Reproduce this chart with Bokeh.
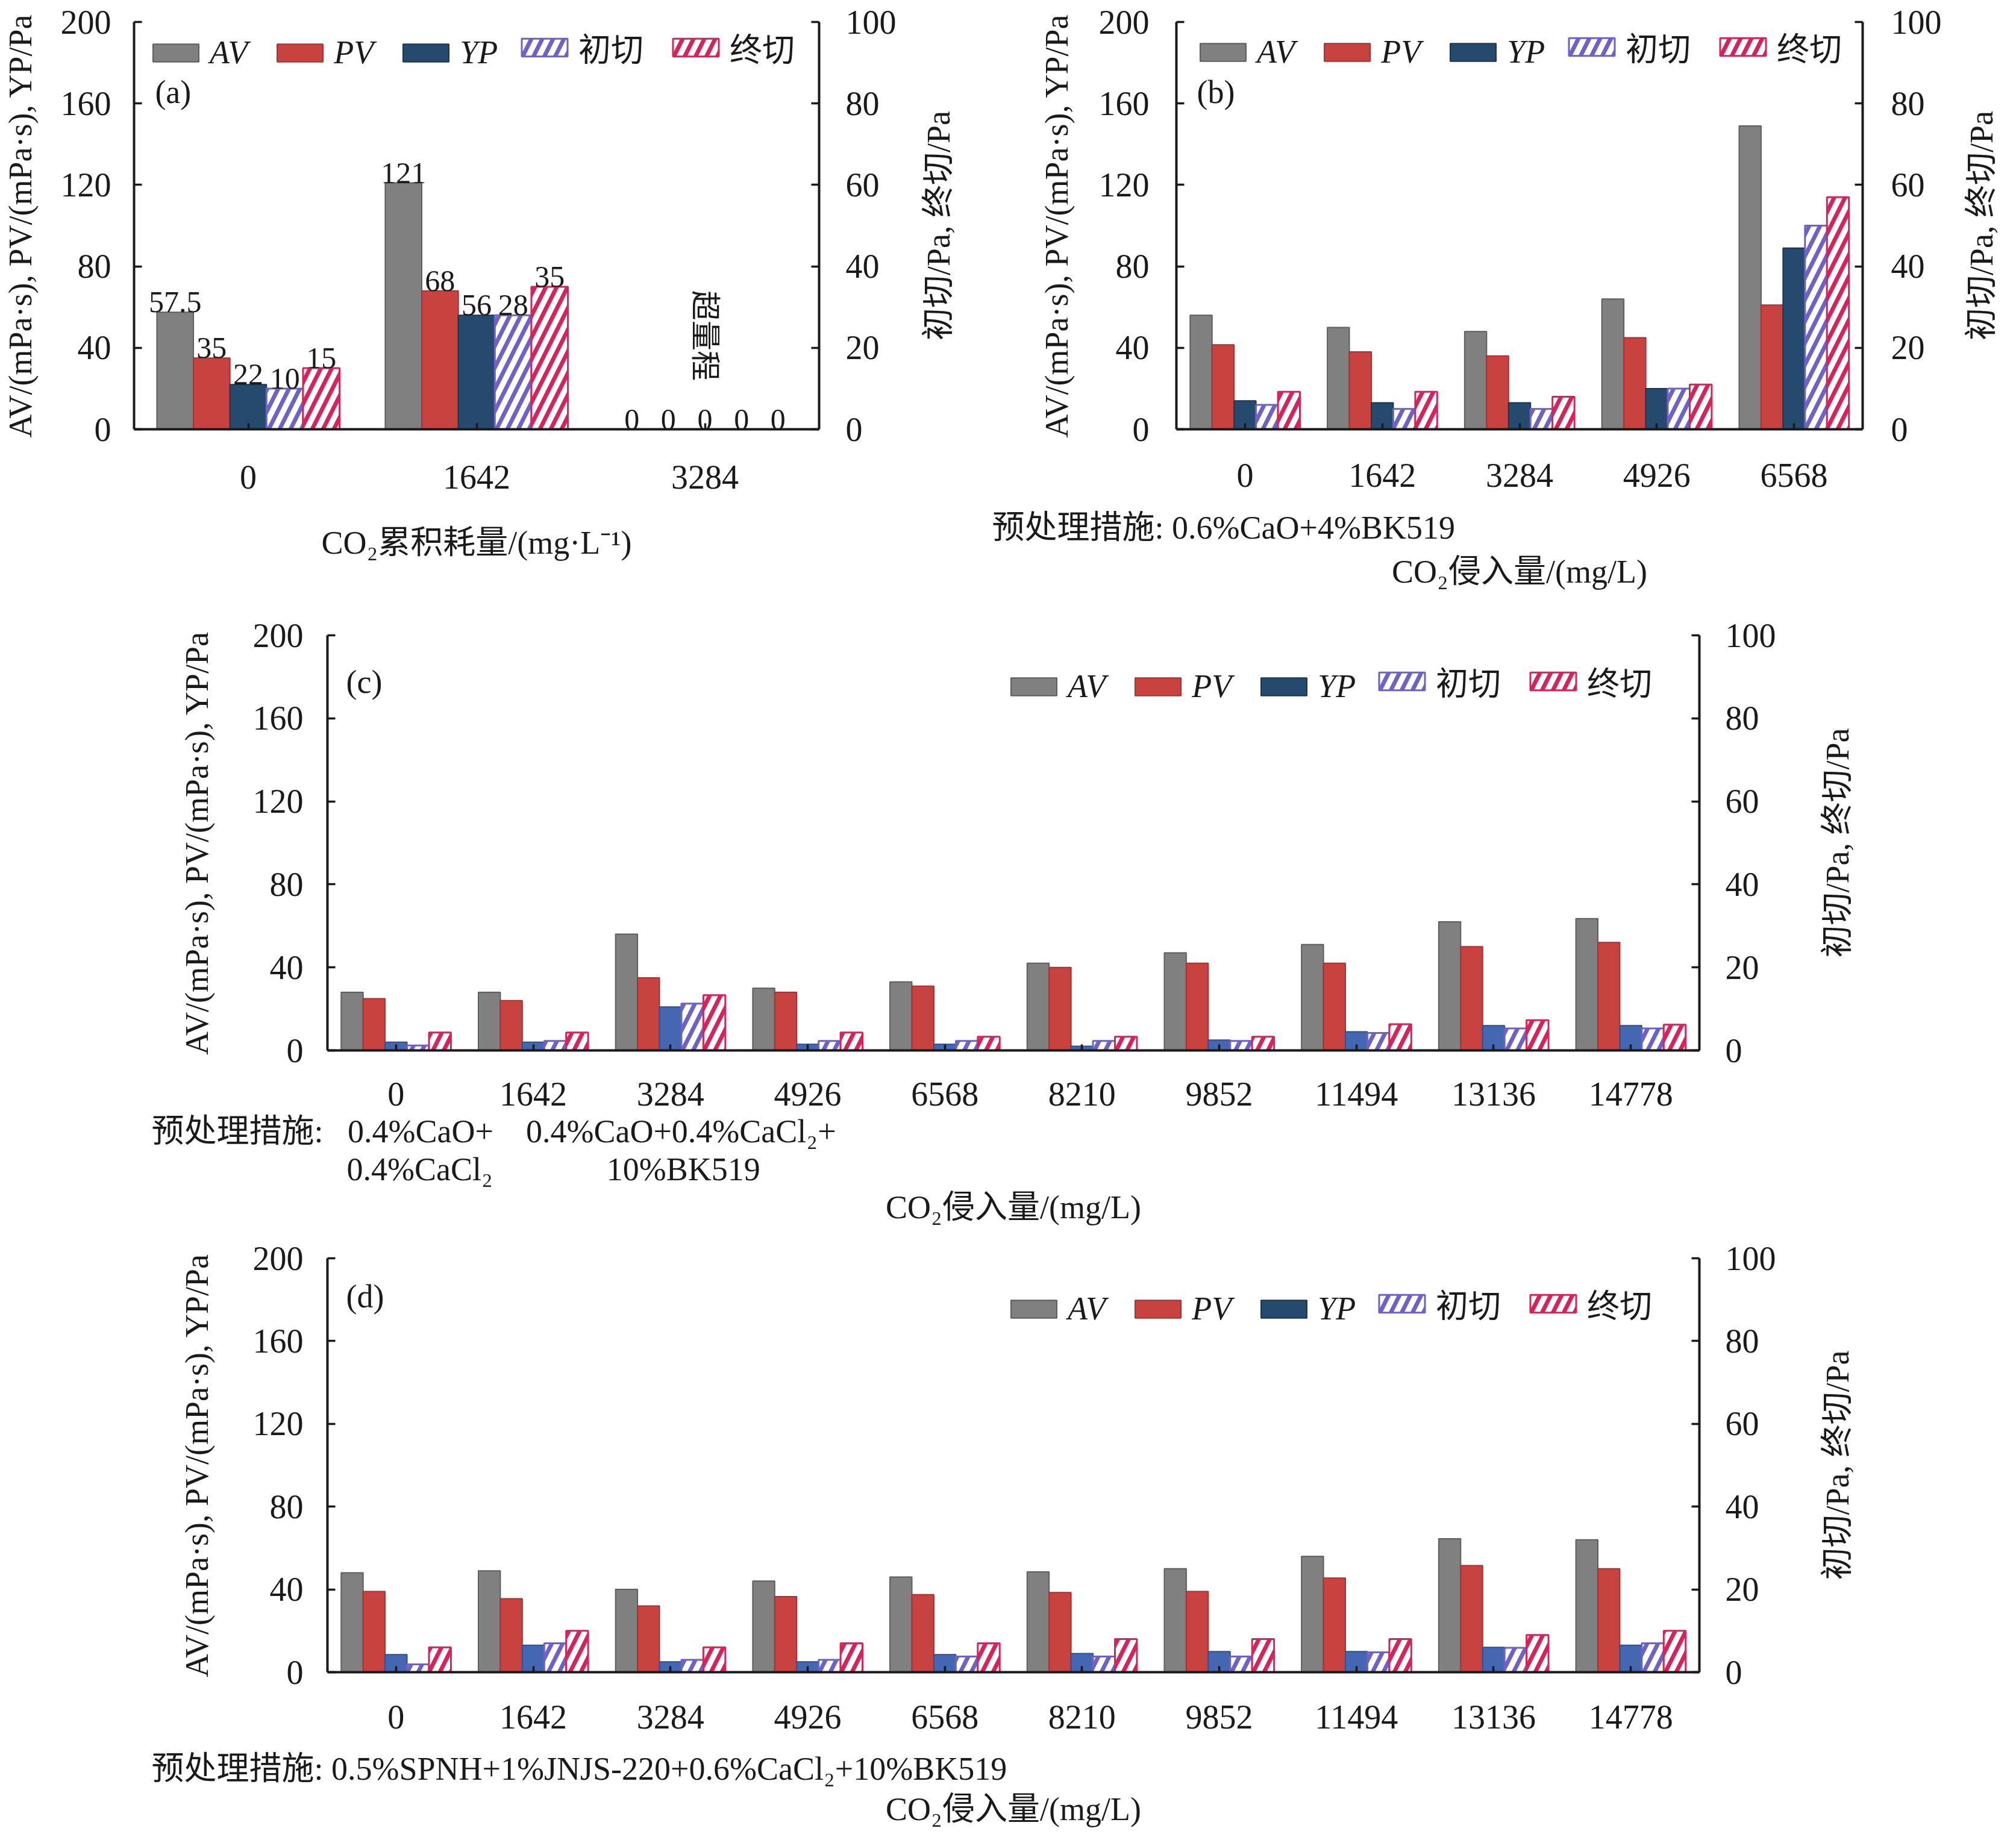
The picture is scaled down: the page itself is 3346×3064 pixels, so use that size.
import math
from bokeh.plotting import figure
from bokeh.models import (Range1d, FactorRange, LinearAxis, FixedTicker, Legend,
                          LegendItem, Label, Title, ColumnDataSource)
from bokeh.transform import dodge
from bokeh.layouts import column, row
from bokeh.embed import file_html
from bokeh.resources import INLINE
from bokeh.core.properties import value

# ---------------- data ----------------
series_names = ["AV", "PV", "YP", "初切", "终切"]

a_cats = ["0", "1642", "3284"]
a_av = [57.5, 121, 0]
a_pv = [35, 68, 0]
a_yp = [22, 56, 0]
a_init = [10, 28, 0]
a_final = [15, 35, 0]

b_cats = ["0", "1642", "3284", "4926", "6568"]
b_av = [56, 50, 48, 64, 149]
b_pv = [41.5, 38, 36, 45, 61]
b_yp = [14, 13, 13, 20, 89]
b_init = [6, 5, 5, 10, 50]
b_final = [9.2, 9.2, 8, 11, 57]

c_cats = ["0", "1642", "3284", "4926", "6568", "8210", "9852", "11494", "13136", "14778"]
c_av = [28, 28, 56, 30, 33, 42, 47, 51, 62, 63.5]
c_pv = [25, 24, 35, 28, 31, 40, 42, 42, 50, 52]
c_yp = [4, 4, 21, 3, 3, 2, 5, 9, 12, 12]
c_init = [1.2, 2.3, 11.3, 2.3, 2.3, 2.3, 2.3, 4.2, 5.3, 5.3]
c_final = [4.3, 4.3, 13.3, 4.3, 3.3, 3.3, 3.3, 6.3, 7.3, 6.2]

d_cats = ["0", "1642", "3284", "4926", "6568", "8210", "9852", "11494", "13136", "14778"]
d_av = [48, 49, 40, 44, 46, 48.5, 50, 56, 64.5, 64]
d_pv = [39, 35.5, 32, 36.5, 37.5, 38.5, 39, 45.5, 51.5, 50]
d_yp = [8.5, 13, 5, 5, 8.5, 9, 10, 10, 12, 13]
d_init = [1.9, 7, 3, 3, 3.8, 3.8, 3.8, 4.8, 5.9, 7]
d_final = [6, 10, 6, 7, 7, 8, 8, 8, 9, 10]

left_ticks = [0, 40, 80, 120, 160, 200]
right_ticks = [0, 20, 40, 60, 80, 100]

left_label = "AV/(mPa·s), PV/(mPa·s), YP/Pa"
right_label = "初切/Pa, 终切/Pa"
a_xlabel = "CO₂累积耗量/(mg·L⁻¹)"
bcd_xlabel = "CO₂侵入量/(mg/L)"
over_range_text = "超量程"

NB = "\u00a0"
b_note = "预处理措施: 0.6%CaO+4%BK519"
c_note = ("预处理措施:" + NB * 3 + "0.4%CaO+" + NB * 4 + "0.4%CaO+0.4%CaCl₂+" + "\n"
          + NB * 24 + "0.4%CaCl₂" + NB * 14 + "10%BK519")
d_note = "预处理措施: 0.5%SPNH+1%JNJS-220+0.6%CaCl₂+10%BK519"

# ---------------- style ----------------
SERIF = "Liberation Serif, Noto Sans CJK SC"
INK = "#1a1a1a"
AV_FILL, AV_LINE = "#808080", "#5e5e5e"
PV_FILL, PV_LINE = "#C8433F", "#A33434"
YP_DARK, YP_DARK_LINE = "#264A6E", "#1c3652"
YP_LIGHT, YP_LIGHT_LINE = "#4566B0", "#30508F"
INIT_COL = "#6E62C6"
FINAL_COL = "#D6245A"
OFFS = [-0.32, -0.16, 0.0, 0.16, 0.32]
BW = 0.16


def fmt(v):
    return str(int(v)) if float(v).is_integer() else str(v)


def style_axis(ax, standoff, label_standoff=None):
    ax.axis_line_width = 4
    ax.axis_line_color = INK
    ax.major_tick_in = 13
    ax.major_tick_out = 0
    ax.major_tick_line_width = 3.5
    ax.major_tick_line_color = INK
    ax.minor_tick_line_color = None
    ax.major_label_text_font = SERIF
    ax.major_label_text_font_size = "56px"
    ax.major_label_text_color = INK
    ax.major_label_standoff = standoff
    ax.axis_label_text_font = SERIF
    ax.axis_label_text_font_size = "54px"
    ax.axis_label_text_font_style = "normal"
    ax.axis_label_text_color = INK
    if label_standoff is not None:
        ax.axis_label_standoff = label_standoff


def title(text, align, offset, standoff, vertical_align="top"):
    return Title(text=text, align=align, offset=offset, standoff=standoff,
                 vertical_align=vertical_align, text_font=SERIF, text_font_size="54px",
                 text_font_style="normal", text_color=INK, text_line_height=1.064)


def side_label(W, H, bl, bt, bb, text):
    """Narrow empty figure whose left title carries the right-hand axis title."""
    q = figure(width=W, height=H, min_border_left=bl, min_border_right=0,
               min_border_top=bt, min_border_bottom=bb,
               x_range=Range1d(0, 1), y_range=Range1d(0, 1),
               x_axis_location=None, y_axis_location=None,
               output_backend="svg", toolbar_location=None, tools="")
    q.outline_line_color = None
    q.grid.visible = False
    q.background_fill_color = "white"
    q.border_fill_color = "white"
    q.add_layout(title(text, "center", 0, 0, vertical_align="middle"), "left")
    return q


def panel(cats, av, pv, yp, init, final, W, H, bl, br, bt, bb, std,
          tag, tag_px, leg_x, leg_c, yp_bar, xlabel=None, below=None,
          value_labels=False):
    FW = W - bl - br
    FH = H - bt - bb
    N = len(cats)

    def X(px):
        return px / FW * N

    def Y(px):
        return px / FH * 200

    p = figure(x_range=FactorRange(factors=cats), y_range=Range1d(0, 200),
               width=W, height=H, min_border_left=bl, min_border_right=br,
               min_border_top=bt, min_border_bottom=bb,
               output_backend="svg", toolbar_location=None, tools="")
    p.extra_y_ranges = {"shear": Range1d(0, 100)}
    p.outline_line_color = None
    p.xgrid.visible = False
    p.ygrid.visible = False
    p.background_fill_color = "white"
    p.border_fill_color = "white"

    src = ColumnDataSource(dict(cat=cats, av=av, pv=pv, yp=yp, init=init, final=final,
                                av_l=[fmt(v) for v in av], pv_l=[fmt(v) for v in pv],
                                yp_l=[fmt(v) for v in yp], init_l=[fmt(v) for v in init],
                                final_l=[fmt(v) for v in final]))

    yp_fill, yp_line = yp_bar
    r_av = p.vbar(x=dodge("cat", OFFS[0], range=p.x_range), top="av", width=BW, source=src,
                  fill_color=AV_FILL, line_color=AV_LINE, line_width=2)
    r_pv = p.vbar(x=dodge("cat", OFFS[1], range=p.x_range), top="pv", width=BW, source=src,
                  fill_color=PV_FILL, line_color=PV_LINE, line_width=2)
    r_yp = p.vbar(x=dodge("cat", OFFS[2], range=p.x_range), top="yp", width=BW, source=src,
                  fill_color=yp_fill, line_color=yp_line, line_width=2)
    r_in = p.vbar(x=dodge("cat", OFFS[3], range=p.x_range), top="init", width=BW, source=src,
                  y_range_name="shear", fill_color="white", line_color=INIT_COL, line_width=3,
                  hatch_pattern="/", hatch_color=INIT_COL, hatch_scale=36, hatch_weight=7)
    r_fi = p.vbar(x=dodge("cat", OFFS[4], range=p.x_range), top="final", width=BW, source=src,
                  y_range_name="shear", fill_color="white", line_color=FINAL_COL, line_width=3,
                  hatch_pattern="/", hatch_color=FINAL_COL, hatch_scale=36, hatch_weight=7)

    if yp_fill != YP_DARK:
        r_yp_leg = p.vbar(x=[cats[0]], top=[0], width=0.0, fill_color=YP_DARK,
                          line_color=YP_DARK_LINE, line_width=2)
    else:
        r_yp_leg = r_yp

    if value_labels:
        for k, (col, rng) in enumerate([("av", None), ("pv", None), ("yp", None),
                                        ("init", "shear"), ("final", "shear")]):
            kw = dict(y_range_name=rng) if rng else {}
            p.text(x=dodge("cat", OFFS[k], range=p.x_range), y=col, text=col + "_l", source=src,
                   text_font=value(SERIF), text_font_size="50px", text_color=INK,
                   text_align="center", text_baseline="bottom", **kw)

    # x axis
    xa = p.xaxis[0]
    style_axis(xa, std["xl"], std["xal"])
    xa.major_tick_in = 10
    if xlabel is not None:
        xa.axis_label = xlabel
    else:
        xa.axis_label = NB
        xa.axis_label_text_font_size = "2px"
    # left axis
    yl = p.yaxis[0]
    yl.ticker = FixedTicker(ticks=left_ticks)
    style_axis(yl, std["yl"], std["yal"])
    yl.axis_label = left_label
    # right axis (its title is drawn by the neighbouring side_label figure)
    yr = LinearAxis(y_range_name="shear", ticker=FixedTicker(ticks=right_ticks))
    style_axis(yr, std["yr"])
    p.add_layout(yr, "right")

    # texts under the x axis
    if below:
        for t in below:
            p.add_layout(t, "below")

    # panel tag
    p.add_layout(Label(x=X(tag_px[0]), y=Y(tag_px[1]), text=tag, text_align="left",
                       text_baseline="middle", text_font=SERIF, text_font_size="54px",
                       text_color=INK))

    # legends
    item_h = 62
    ly = FH - leg_c - item_h / 2
    common = dict(orientation="horizontal", glyph_width=95, glyph_height=37,
                  label_standoff=9, spacing=39, padding=0, margin=0,
                  border_line_color=None, background_fill_alpha=0,
                  label_text_font=SERIF, label_text_font_size="54px",
                  label_text_color=INK)
    leg1 = Legend(items=[LegendItem(label=value(series_names[0]), renderers=[r_av]),
                         LegendItem(label=value(series_names[1]), renderers=[r_pv]),
                         LegendItem(label=value(series_names[2]), renderers=[r_yp_leg])],
                  location=(leg_x[0], ly), label_text_font_style="italic", **common)
    leg2 = Legend(items=[LegendItem(label=value(series_names[3]), renderers=[r_in]),
                         LegendItem(label=value(series_names[4]), renderers=[r_fi])],
                  location=(leg_x[1], ly), **common)
    p.add_layout(leg1)
    p.add_layout(leg2)
    return p, X, Y


pa, Xa, Ya = panel(a_cats, a_av, a_pv, a_yp, a_init, a_final,
                   W=1497, H=1000, bl=218, br=138, bt=36, bb=288,
                   std=dict(xl=60, xal=57, yl=38, yal=34, yr=44),
                   tag="(a)", tag_px=(35, 560), leg_x=(22, 634), leg_c=51,
                   yp_bar=(YP_DARK, YP_DARK_LINE), xlabel=a_xlabel, value_labels=True)
pa.add_layout(Label(x=a_cats.index("3284") + 0.5, y=46, text=over_range_text,
                    angle=-math.pi / 2, text_align="center", text_baseline="middle",
                    text_font=SERIF, text_font_size="50px", text_color=INK))
sa = side_label(135, 1000, 91, 36, 288, right_label)

pb, _, _ = panel(b_cats, b_av, b_pv, b_yp, b_init, b_final,
                 W=1600, H=1000, bl=320, br=141, bt=36, bb=287,
                 std=dict(xl=57, xal=19, yl=45, yal=37, yr=47),
                 tag="(b)", tag_px=(34, 560), leg_x=(30, 642), leg_c=51,
                 yp_bar=(YP_DARK, YP_DARK_LINE),
                 below=[title(b_note, "left", -306, 22), title(bcd_xlabel, "center", 0, 0)])
sb = side_label(98, 1000, 87, 36, 287, right_label)

pc, _, _ = panel(c_cats, c_av, c_pv, c_yp, c_init, c_final,
                 W=2972, H=1055, bl=543, br=152, bt=54, bb=312,
                 std=dict(xl=53, xal=5, yl=40, yal=60, yr=43),
                 tag="(c)", tag_px=(31, 612), leg_x=(1125, 1736), leg_c=85,
                 yp_bar=(YP_LIGHT, YP_LIGHT_LINE),
                 below=[title(c_note, "left", -292, 0), title(bcd_xlabel, "center", 0, 0)])
sc = side_label(358, 1055, 108, 54, 312, right_label)

pd_, _, _ = panel(d_cats, d_av, d_pv, d_yp, d_init, d_final,
                  W=2972, H=992, bl=543, br=152, bt=33, bb=272,
                  std=dict(xl=55, xal=24, yl=40, yal=60, yr=43),
                  tag="(d)", tag_px=(31, 624), leg_x=(1125, 1736), leg_c=84,
                  yp_bar=(YP_LIGHT, YP_LIGHT_LINE),
                  below=[title(d_note, "left", -292, 10), title(bcd_xlabel, "center", 0, 0)])
sd = side_label(358, 992, 108, 33, 272, right_label)

layout = column(row(pa, sa, pb, sb), row(pc, sc), row(pd_, sd))
open("out.html", "w").write(file_html(layout, INLINE))
